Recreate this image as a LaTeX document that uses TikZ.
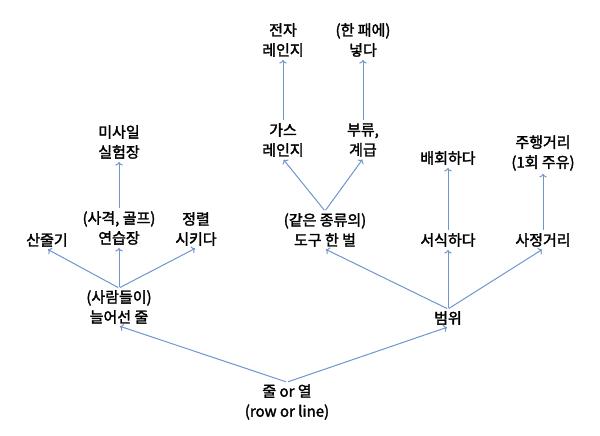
\documentclass[tikz,border=0pt]{standalone}
\usepackage{fontspec}
\setmainfont{Noto Sans CJK KR}[FakeBold=2]
\usetikzlibrary{arrows.meta}
\definecolor{lineblue}{RGB}{110,150,205}

\begin{document}
\begin{tikzpicture}[x=1pt,y=-1pt,
                            word/.style={align=center,inner sep=2pt,font=\fontsize{15}{20}\selectfont},
                            link/.style={draw=lineblue,line width=1pt,-{To[length=3.5pt,width=7.5pt]},shorten >=1pt,shorten <=1pt}]
                            \useasboundingbox (0,0) rectangle (600,436);
                            \node[word] (row) at (287,402) {줄 or 열\\(row or line)};
                            \node[word] (queue) at (119,307) {(사람들이)\\늘어선 줄};
                            \node[word] (scope) at (448,318) {범위};
                            \node[word] (ridge) at (47,240) {산줄기};
                            \node[word] (range) at (119,228) {(사격, 골프)\\연습장};
                            \node[word] (order) at (196,229) {정렬\\시키다};
                            \node[word] (missile) at (119,142) {미사일\\실험장};
                            \node[word] (kit) at (325,230) {(같은 종류의)\\도구 한 벌};
                            \node[word] (gas) at (283,140) {가스\\레인지};
                            \node[word] (class) at (363,140) {부류,\\계급};
                            \node[word] (micro) at (283,40) {전자\\레인지};
                            \node[word] (deal) at (363,40) {(한 패에)\\넣다};
                            \node[word] (live) at (448,240) {서식하다};
                            \node[word] (roam) at (448,158) {배회하다};
                            \node[word] (reach) at (543,240) {사정거리};
                            \node[word] (mile) at (543,153) {주행거리\\(1회 주유)};
                            \draw[link] (row.north) -- (queue.south);
                            \draw[link] (row.north) -- (scope.south);
                            \draw[link] (queue.north) -- (ridge.south);
                            \draw[link] (queue.north) -- (range.south);
                            \draw[link] (queue.north) -- (order.south);
                            \draw[link] (range.north) -- (missile.south);
                            \draw[link] (scope.north) -- (kit.south);
                            \draw[link] (scope.north) -- (live.south);
                            \draw[link] (scope.north) -- (reach.south);
                            \draw[link] (kit.north) -- (gas.south);
                            \draw[link] (kit.north) -- (class.south);
                            \draw[link] (gas.north) -- (micro.south);
                            \draw[link] (class.north) -- (deal.south);
                            \draw[link] (live.north) -- (roam.south);
                            \draw[link] (reach.north) -- (mile.south);
                        \end{tikzpicture}
\end{document}
